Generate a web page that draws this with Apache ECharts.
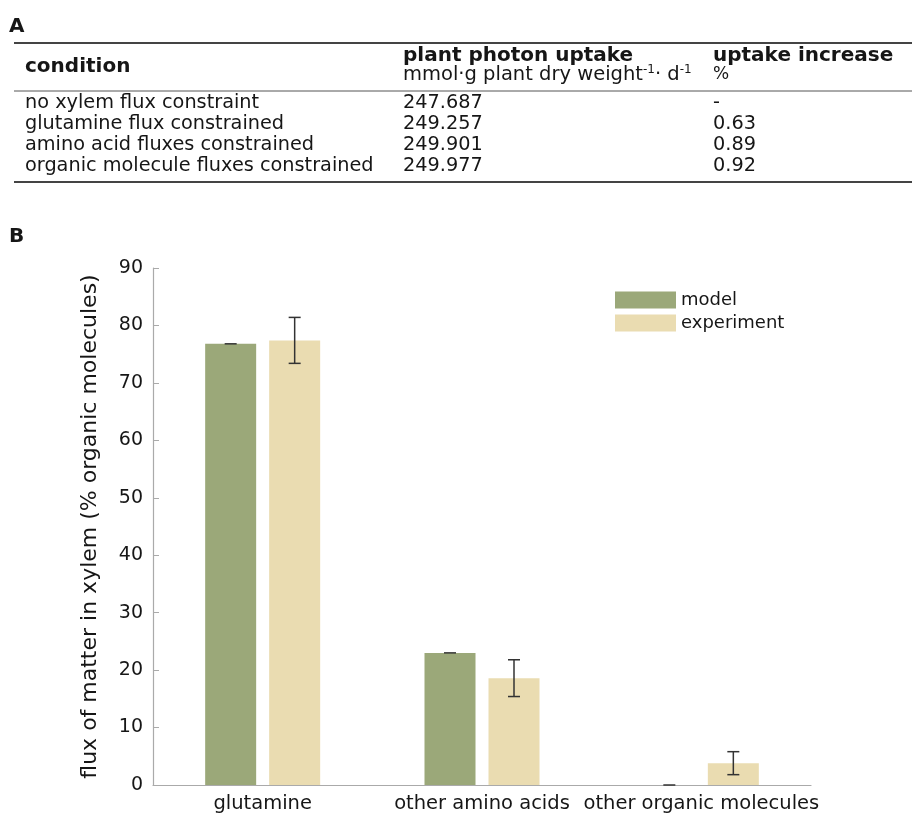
<!DOCTYPE html>
<html>
<head>
<meta charset="utf-8">
<script src="https://cdn.jsdelivr.net/npm/echarts@6/dist/echarts.min.js"></script>
<style>
  html, body { margin: 0; padding: 0; background: #fff; }
  #chart { width: 912px; height: 817px; }
</style>
</head>
<body>
<div id="chart"></div>
<script>
// ---- Panel A: table of photon uptake per flux constraint ----
const tableHeaders = ['condition', 'plant photon uptake', 'uptake increase'];
const conditions = [
  'no xylem flux constraint',
  'glutamine flux constrained',
  'amino acid fluxes constrained',
  'organic molecule fluxes constrained'
];
const photonUptake = ['247.687', '249.257', '249.901', '249.977'];
const uptakeIncrease = ['-', '0.63', '0.89', '0.92'];

// ---- Panel B: xylem flux composition ----
const categories = ['glutamine', 'other amino acids', 'other organic molecules'];
const modelValues = [76.8, 23.0, 0];
const modelErrors = [0, 0, 0];
const experimentValues = [77.4, 18.6, 3.8];
const experimentErrors = [4.0, 3.2, 2.0];
const seriesNames = ['model', 'experiment'];
const yTicks = { min: 0, max: 90, interval: 10 };

const FONT = 'DejaVu Sans';
const TEXT = '#161616';
const MODEL_COLOR = '#9ba879';
const EXP_COLOR = '#eadcb1';
const BAR_W = 51;
const BAR_GAP = 13;

const chart = echarts.init(document.getElementById('chart'), null, { renderer: 'canvas' });

// table graphics
const colX = [25, 403, 713];
const rowY = [103, 124, 145, 166];
const g = [];
g.push({ type: 'text', left: 9, top: 17, style: { text: 'A', font: 'bold 20px ' + FONT, fill: TEXT } });
g.push({ type: 'text', left: 9, top: 227, style: { text: 'B', font: 'bold 20px ' + FONT, fill: TEXT } });
g.push({ type: 'line', shape: { x1: 14, y1: 43, x2: 912, y2: 43 }, style: { stroke: '#444', lineWidth: 1.8 } });
g.push({ type: 'line', shape: { x1: 14, y1: 91, x2: 912, y2: 91 }, style: { stroke: '#555', lineWidth: 1 } });
g.push({ type: 'line', shape: { x1: 14, y1: 182, x2: 912, y2: 182 }, style: { stroke: '#444', lineWidth: 1.8 } });
g.push({ type: 'text', x: colX[0], y: 67, style: { text: tableHeaders[0], font: 'bold 20px ' + FONT, fill: TEXT, textVerticalAlign: 'middle' } });
g.push({ type: 'text', x: colX[1], y: 56, style: { text: tableHeaders[1], font: 'bold 20px ' + FONT, fill: TEXT, textVerticalAlign: 'middle' } });
g.push({ type: 'text', x: colX[2], y: 56, style: { text: tableHeaders[2], font: 'bold 20px ' + FONT, fill: TEXT, textVerticalAlign: 'middle' } });
// unit line with superscript exponents
g.push({
  type: 'text', x: colX[1], y: 75,
  style: {
    text: 'mmol·g plant dry weight{sup|-1}· d{sup|-1}',
    font: '19.5px ' + FONT, fill: TEXT, textVerticalAlign: 'middle',
    rich: {
      sup: { fontSize: 12, fontFamily: FONT, fill: TEXT, verticalAlign: 'top', lineHeight: 22, padding: [0, 0, 8, 0] }
    }
  }
});
g.push({ type: 'text', x: colX[2], y: 75, style: { text: '%', font: '17px ' + FONT, fill: TEXT, textVerticalAlign: 'middle' } });
conditions.forEach(function (c, i) {
  g.push({ type: 'text', x: colX[0], y: rowY[i], style: { text: c, font: '19.3px ' + FONT, fill: TEXT, textVerticalAlign: 'middle' } });
  g.push({ type: 'text', x: colX[1], y: rowY[i], style: { text: photonUptake[i], font: '19.3px ' + FONT, fill: TEXT, textVerticalAlign: 'middle' } });
  g.push({ type: 'text', x: colX[2], y: rowY[i], style: { text: uptakeIncrease[i], font: '19.3px ' + FONT, fill: TEXT, textVerticalAlign: 'middle' } });
});

// error bar renderer; offset places whiskers over the matching bar of the pair
function errorBarRenderer(offset) {
  return function (params, api) {
    const x = api.value(0);
    const v = api.value(1);
    const e = api.value(2);
    const top = api.coord([x, v + e]);
    const bot = api.coord([x, v - e]);
    const cx = top[0] + offset;
    const cap = 6;
    const style = { stroke: '#333', lineWidth: 1.5 };
    const children = [
      { type: 'line', shape: { x1: cx - cap, y1: top[1], x2: cx + cap, y2: top[1] }, style: style }
    ];
    if (e > 0) {
      children.push({ type: 'line', shape: { x1: cx, y1: top[1], x2: cx, y2: bot[1] }, style: style });
      children.push({ type: 'line', shape: { x1: cx - cap, y1: bot[1], x2: cx + cap, y2: bot[1] }, style: style });
    }
    return { type: 'group', children: children };
  };
}

const half = (BAR_W + BAR_GAP) / 2;

chart.setOption({
  animation: false,
  textStyle: { fontFamily: FONT },
  graphic: g,
  grid: { left: 153, right: 101, top: 268, bottom: 32, containLabel: false },
  legend: {
    data: seriesNames,
    orient: 'vertical',
    left: 610,
    top: 286,
    itemWidth: 61,
    itemHeight: 17,
    itemGap: 5,
    icon: 'rect',
    textStyle: { fontSize: 18, color: TEXT, fontFamily: FONT }
  },
  xAxis: {
    type: 'category',
    data: categories,
    axisLine: { lineStyle: { color: '#aaa', width: 1.2 } },
    axisTick: { alignWithLabel: true, inside: true, length: 6, lineStyle: { color: '#aaa' } },
    axisLabel: { fontSize: 19.5, color: TEXT, margin: 9, interval: 0, fontFamily: FONT }
  },
  yAxis: {
    type: 'value',
    min: yTicks.min,
    max: yTicks.max,
    interval: yTicks.interval,
    name: 'flux of matter in xylem (% organic molecules)',
    nameLocation: 'middle',
    nameGap: 52,
    nameTextStyle: { fontSize: 22, color: TEXT, fontFamily: FONT },
    axisLine: { show: true, lineStyle: { color: '#aaa', width: 1.2 } },
    axisTick: { show: true, inside: true, length: 6, lineStyle: { color: '#aaa' } },
    splitLine: { show: false },
    axisLabel: { fontSize: 19, color: TEXT, margin: 10, fontFamily: FONT }
  },
  series: [
    {
      name: seriesNames[0], type: 'bar', data: modelValues,
      barWidth: BAR_W, barGap: (BAR_GAP / BAR_W * 100) + '%',
      itemStyle: { color: MODEL_COLOR }
    },
    {
      name: seriesNames[1], type: 'bar', data: experimentValues,
      barWidth: BAR_W,
      itemStyle: { color: EXP_COLOR }
    },
    {
      type: 'custom', name: 'model error', z: 10,
      renderItem: errorBarRenderer(-half),
      data: modelValues.map(function (v, i) { return [i, v, modelErrors[i]]; })
    },
    {
      type: 'custom', name: 'experiment error', z: 10,
      renderItem: errorBarRenderer(half),
      data: experimentValues.map(function (v, i) { return [i, v, experimentErrors[i]]; })
    }
  ]
});
</script>
</body>
</html>
